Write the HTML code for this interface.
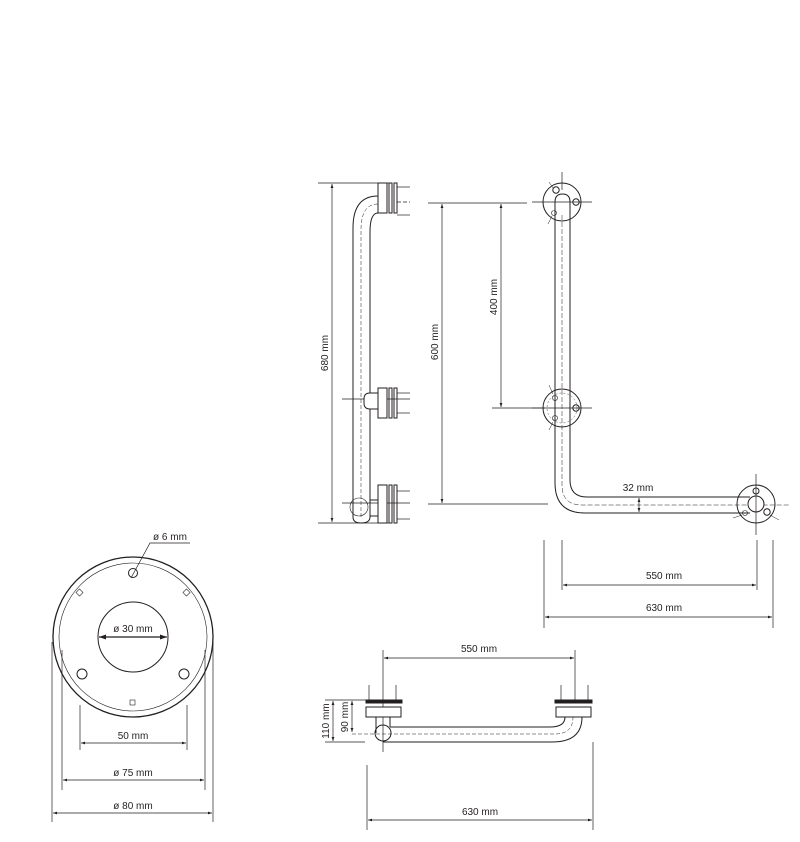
<!DOCTYPE html>
<html><head><meta charset="utf-8"><style>
html,body{margin:0;padding:0;background:#fff}
svg{display:block}
text{font-family:"Liberation Sans",sans-serif;font-size:10px;fill:#231f20}
</style></head><body>
<svg width="800" height="842" viewBox="0 0 800 842" xmlns="http://www.w3.org/2000/svg">
<defs>
<marker id="a" viewBox="0 0 10 10" refX="10" refY="5" markerWidth="6" markerHeight="6" orient="auto-start-reverse"><path d="M0,1.5 L10,5 L0,8.5 z" fill="#231f20"/></marker>
</defs>
<g stroke="#231f20" fill="none" stroke-width="1">
<!-- SIDE VIEW -->
<line x1="318" y1="183" x2="392" y2="183" stroke-width="0.7"/>
<line x1="318" y1="523" x2="392" y2="523" stroke-width="0.7"/>
<line x1="332" y1="184" x2="332" y2="522" stroke-width="0.7" marker-start="url(#a)" marker-end="url(#a)"/>
<!-- tube -->
<path d="M353,517 V228 Q353,196 378,196"/>
<path d="M370,517 V232 Q370,213 378,213"/>
<path d="M361,517 V230 Q361,204 378,204" stroke-dasharray="4,2" stroke-width="0.5"/>
<!-- top flange -->
<rect x="378" y="183" width="9" height="30" fill="#fff"/>
<rect x="389" y="183" width="3" height="30"/>
<rect x="394" y="183" width="3" height="30"/>
<line x1="397" y1="187" x2="410" y2="187" stroke-width="0.7"/>
<line x1="397" y1="202" x2="410" y2="202" stroke-width="0.7" stroke-dasharray="4,2"/>
<line x1="397" y1="215" x2="410" y2="215" stroke-width="0.7"/>
<!-- middle flange -->
<line x1="342" y1="399" x2="410" y2="399" stroke-width="0.7"/>
<path d="M378,393 H370 Q364,393 364,399 V403 Q364,409 370,409 H378" fill="#fff"/>
<rect x="378" y="388" width="9" height="30" fill="#fff"/>
<rect x="389" y="388" width="3" height="30"/>
<rect x="394" y="388" width="3" height="30"/>
<line x1="397" y1="393" x2="410" y2="393" stroke-width="0.7"/>
<line x1="397" y1="413" x2="410" y2="413" stroke-width="0.7"/>
<!-- bottom flange -->
<path d="M353,517 Q353,523 361,523 Q370,523 370,517"/>
<line x1="342" y1="503" x2="410" y2="503" stroke-width="0.7"/>
<circle cx="359" cy="507" r="9" stroke-width="0.6"/>
<line x1="370" y1="500" x2="378" y2="500"/>
<line x1="370" y1="516" x2="378" y2="516"/>
<rect x="378" y="485" width="9" height="38" fill="#fff"/>
<rect x="389" y="485" width="3" height="38"/>
<rect x="394" y="485" width="3" height="38"/>
<line x1="397" y1="491" x2="410" y2="491" stroke-width="0.7"/>
<line x1="397" y1="519" x2="410" y2="519" stroke-width="0.7"/>
<!-- 600 / 400 dims -->
<line x1="428" y1="203" x2="527" y2="203" stroke-width="0.7"/>
<line x1="428" y1="504" x2="548" y2="504" stroke-width="0.7"/>
<line x1="492" y1="408" x2="545" y2="408" stroke-width="0.7"/>
<line x1="442" y1="204" x2="442" y2="503" stroke-width="0.7" marker-start="url(#a)" marker-end="url(#a)"/>
<line x1="501" y1="204" x2="501" y2="407" stroke-width="0.7" marker-start="url(#a)" marker-end="url(#a)"/>

<!-- TOP VIEW (L) -->
<path d="M555,202 V483 Q555,513 585,513 H750"/>
<path d="M570,202 V480 Q570,497 587,497 H750"/>
<path d="M555,202 Q555,194 562.5,194 Q570,194 570,202"/>
<path d="M562,215 V485 Q562,505 582,505 H790" stroke-dasharray="5,2" stroke-width="0.5"/>
<g>
<circle cx="562" cy="202" r="19"/>
<circle cx="556" cy="190" r="3.2"/><circle cx="576" cy="202" r="3.2"/><circle cx="554" cy="213" r="2.5" stroke-width="0.6"/>
<line x1="532" y1="202" x2="592" y2="202" stroke-width="0.7"/>
<line x1="562" y1="172" x2="562" y2="190" stroke-width="0.7"/>
<line x1="549" y1="182" x2="553" y2="188" stroke-width="0.5"/><line x1="548" y1="224" x2="552" y2="216" stroke-width="0.5"/>
</g>
<g>
<circle cx="562" cy="408" r="19"/>
<circle cx="562" cy="408" r="15" stroke-width="0.4" stroke-dasharray="2,2"/>
<circle cx="555" cy="398" r="2.5" stroke-width="0.6"/><circle cx="576" cy="408" r="3.2"/><circle cx="555" cy="418" r="2.5" stroke-width="0.6"/>
<line x1="532" y1="408" x2="592" y2="408" stroke-width="0.7"/>
<line x1="549" y1="385" x2="553" y2="394" stroke-width="0.5"/><line x1="549" y1="430" x2="553" y2="422" stroke-width="0.5"/>
</g>
<g>
<circle cx="756" cy="504" r="19"/>
<circle cx="756" cy="504" r="8" fill="#fff"/>
<circle cx="756" cy="491" r="3"/><circle cx="767" cy="512" r="3.2"/><circle cx="745" cy="513" r="2.5" stroke-width="0.6"/>
<line x1="756" y1="474" x2="756" y2="535" stroke-width="0.7"/>
<line x1="733" y1="518" x2="742" y2="515" stroke-width="0.5"/><line x1="770" y1="515" x2="779" y2="520" stroke-width="0.5"/>
</g>
<line x1="639" y1="498" x2="639" y2="512" stroke-width="0.7" marker-start="url(#a)" marker-end="url(#a)"/>
<line x1="562" y1="540" x2="562" y2="590" stroke-width="0.7"/>
<line x1="757" y1="540" x2="757" y2="590" stroke-width="0.7"/>
<line x1="544" y1="540" x2="544" y2="628" stroke-width="0.7"/>
<line x1="773" y1="540" x2="773" y2="628" stroke-width="0.7"/>
<line x1="563" y1="585" x2="756" y2="585" stroke-width="0.7" marker-start="url(#a)" marker-end="url(#a)"/>
<line x1="545" y1="617" x2="772" y2="617" stroke-width="0.7" marker-start="url(#a)" marker-end="url(#a)"/>

<!-- ROUND FLANGE -->
<circle cx="133" cy="637" r="80" stroke-width="1.3"/>
<circle cx="133" cy="637" r="74" stroke-width="0.6"/>
<circle cx="133" cy="637" r="35"/>
<circle cx="133" cy="573" r="4.5"/>
<circle cx="82" cy="674" r="5"/>
<circle cx="184" cy="674" r="5"/>
<rect x="77" y="590" width="5" height="5" transform="rotate(45 79.5 592.5)" stroke-width="0.6"/>
<rect x="184" y="590" width="5" height="5" transform="rotate(-45 186.5 592.5)" stroke-width="0.6"/>
<rect x="130" y="700" width="5" height="5" stroke-width="0.6"/>
<polyline points="131,578 150,543 190,543" stroke-width="0.7"/>
<line x1="99" y1="637" x2="167" y2="637" stroke-width="1.2" marker-start="url(#a)" marker-end="url(#a)"/>
<line x1="80" y1="705" x2="80" y2="750" stroke-width="0.7"/>
<line x1="187" y1="705" x2="187" y2="750" stroke-width="0.7"/>
<line x1="81" y1="743" x2="186" y2="743" stroke-width="0.7" marker-start="url(#a)" marker-end="url(#a)"/>
<line x1="62" y1="650" x2="62" y2="790" stroke-width="0.7"/>
<line x1="205" y1="650" x2="205" y2="790" stroke-width="0.7"/>
<line x1="63" y1="780" x2="204" y2="780" stroke-width="0.7" marker-start="url(#a)" marker-end="url(#a)"/>
<line x1="52" y1="642" x2="52" y2="822" stroke-width="0.7"/>
<line x1="213" y1="642" x2="213" y2="822" stroke-width="0.7"/>
<line x1="53" y1="813" x2="212" y2="813" stroke-width="0.7" marker-start="url(#a)" marker-end="url(#a)"/>

<!-- BOTTOM VIEW -->
<line x1="383" y1="650" x2="383" y2="752" stroke-width="0.7"/>
<line x1="575" y1="650" x2="575" y2="700" stroke-width="0.7"/>
<line x1="384" y1="658" x2="574" y2="658" stroke-width="0.7" marker-start="url(#a)" marker-end="url(#a)"/>
<line x1="369" y1="685" x2="369" y2="700" stroke-width="0.7"/>
<line x1="396" y1="685" x2="396" y2="700" stroke-width="0.7"/>
<rect x="366" y="700" width="36" height="3" fill="#231f20"/>
<rect x="366" y="707" width="35" height="10" fill="#fff"/>
<line x1="376" y1="717" x2="376" y2="733"/>
<line x1="390" y1="717" x2="390" y2="727"/>
<circle cx="383" cy="733" r="8"/>
<line x1="561" y1="685" x2="561" y2="700" stroke-width="0.7"/>
<line x1="588" y1="685" x2="588" y2="700" stroke-width="0.7"/>
<rect x="555" y="700" width="37" height="3" fill="#231f20"/>
<rect x="556" y="707" width="35" height="10" fill="#fff"/>
<path d="M390,727 H550 Q565,727 565,717"/>
<path d="M383,742 H552 Q582,742 582,717"/>
<path d="M352,734 H555 Q573,734 573,717" stroke-dasharray="4,2" stroke-width="0.5"/>
<line x1="325" y1="700" x2="366" y2="700" stroke-width="0.7"/>
<line x1="325" y1="742" x2="365" y2="742" stroke-width="0.7"/>
<line x1="333" y1="701" x2="333" y2="741" stroke-width="0.7" marker-start="url(#a)" marker-end="url(#a)"/>
<line x1="352" y1="701" x2="352" y2="732" stroke-width="0.7" marker-start="url(#a)" marker-end="url(#a)"/>
<line x1="367" y1="765" x2="367" y2="830" stroke-width="0.7"/>
<line x1="593" y1="742" x2="593" y2="830" stroke-width="0.7"/>
<line x1="368" y1="820" x2="592" y2="820" stroke-width="0.7" marker-start="url(#a)" marker-end="url(#a)"/>
</g>
<!-- labels -->
<text x="328" y="353" text-anchor="middle" transform="rotate(-90 328 353)">680 mm</text>
<text x="438" y="342" text-anchor="middle" transform="rotate(-90 438 342)">600 mm</text>
<text x="497" y="297" text-anchor="middle" transform="rotate(-90 497 297)">400 mm</text>
<text x="638" y="491" text-anchor="middle">32 mm</text>
<text x="664" y="579" text-anchor="middle">550 mm</text>
<text x="664" y="611" text-anchor="middle">630 mm</text>
<text x="170" y="540" text-anchor="middle">ø 6 mm</text>
<text x="133" y="632" text-anchor="middle">ø 30 mm</text>
<text x="133" y="739" text-anchor="middle">50 mm</text>
<text x="133" y="776" text-anchor="middle">ø 75 mm</text>
<text x="133" y="809" text-anchor="middle">ø 80 mm</text>
<text x="479" y="652" text-anchor="middle">550 mm</text>
<text x="480" y="815" text-anchor="middle">630 mm</text>
<text x="329" y="721" text-anchor="middle" transform="rotate(-90 329 721)">110 mm</text>
<text x="348" y="717" text-anchor="middle" transform="rotate(-90 348 717)">90 mm</text>
</svg>
</body></html>
